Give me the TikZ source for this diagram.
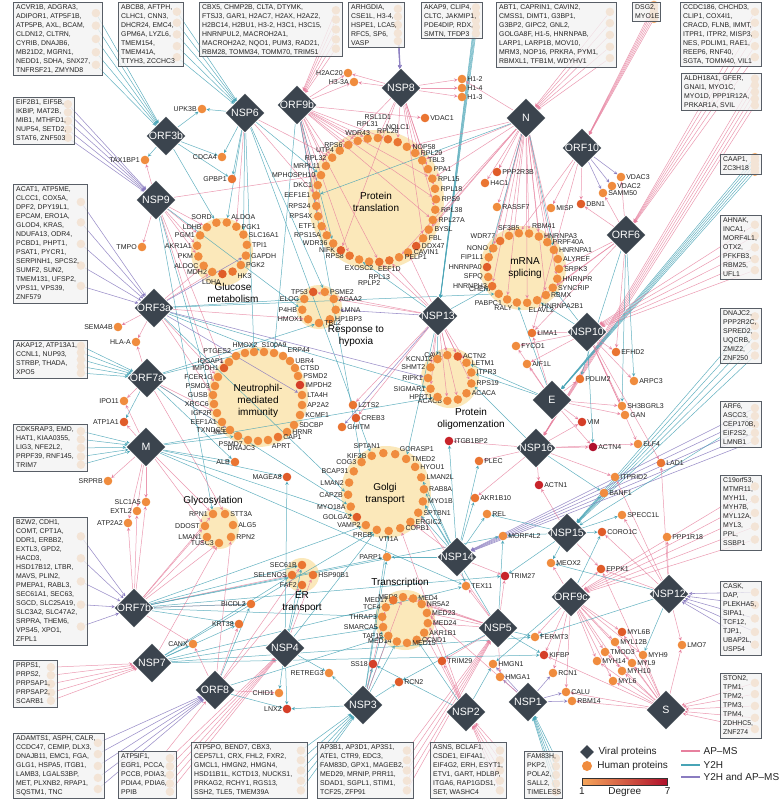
\documentclass[tikz,border=0pt]{standalone}
\usepackage{fontspec}
\setmainfont{Liberation Sans}
\usetikzlibrary{arrows,shapes.geometric,positioning,calc}
\pgfdeclarelayer{blob}
\pgfdeclarelayer{edge}
\pgfsetlayers{blob,edge,main}
\definecolor{viral}{RGB}{59,68,78}
\definecolor{apmsc}{RGB}{231,128,158}
\definecolor{y2hc}{RGB}{72,164,182}
\definecolor{bothc}{RGB}{138,124,192}
\definecolor{d1}{RGB}{245,165,90}
\definecolor{d2}{RGB}{240,140,62}
\definecolor{d3}{RGB}{234,117,50}
\definecolor{d4}{RGB}{224,92,42}
\definecolor{d5}{RGB}{213,62,40}
\definecolor{d6}{RGB}{200,36,42}
\definecolor{d7}{RGB}{176,16,44}
\definecolor{blobc}{RGB}{251,232,186}
\definecolor{boxc}{RGB}{243,243,243}
\definecolor{boxl}{RGB}{88,94,102}
\definecolor{txt}{RGB}{35,35,35}

\begin{document}
\begin{tikzpicture}
[x=1pt,y=-1pt,
vir/.style={diamond,fill=viral,draw=white,line width=.6pt,minimum width=40pt,minimum height=40pt,inner sep=0pt},
vtxt/.style={text=white,font=\fontsize{10.6}{11}\selectfont,inner sep=0pt},
hum/.style={circle,fill=d2,minimum size=8.6pt,inner sep=0pt,label distance=.5pt},
lbl/.style={text=txt,fill=none,font=\fontsize{7}{7}\selectfont,inner sep=.6pt},
gbox/.style={rectangle,draw=boxl,line width=.9pt,fill=boxc,fill opacity=.78,inner sep=0pt,anchor=north west},
btxt/.style={anchor=north west,align=left,text=txt,fill=none,draw=none,fill opacity=1,text opacity=1,font=\fontsize{6.9}{9}\selectfont,inner xsep=3pt,inner ysep=2.6pt},
ghost/.style={circle,fill=d1!85,minimum size=8.6pt,inner sep=0pt},
blob/.style={fill=blobc},
clab/.style={align=center,text=black,font=\fontsize{10}{11.7}\selectfont,inner sep=0pt},
lgt/.style={text=txt,font=\fontsize{10}{11}\selectfont,inner sep=1pt},
apms/.style={->,>=stealth,draw=apmsc,line width=.5pt,draw opacity=.8},
y2h/.style={->,>=stealth,draw=y2hc,line width=.5pt,draw opacity=.85},
both/.style={->,>=stealth,draw=bothc,line width=.55pt,draw opacity=.85}]
\useasboundingbox (0,0) rectangle (784,803);

\foreach \x/\y/\n/\lb in {166/136/vorf3b/ORF3b,245/113/vnsp6/NSP6,297/105/vorf9b/ORF9b,401/88/vnsp8/NSP8,
526/118/vN/N,582/148/vorf10/ORF10,626/235/vorf6/ORF6,156/200/vnsp9/NSP9,154/308/vorf3a/ORF3a,
147/378/vorf7a/ORF7a,146/447/vM/M,438/316/vnsp13/NSP13,587/332/vnsp10/NSP10,552/400/vE/E,
536/448/vnsp16/NSP16,457/557/vnsp14/NSP14,567/533/vnsp15/NSP15,571/597/vorf9c/ORF9c,
669/594/vnsp12/NSP12,666/710/vS/S,528/702/vnsp1/NSP1,498/628/vnsp5/NSP5,466/712/vnsp2/NSP2,
363/705/vnsp3/NSP3,285/648/vnsp4/NSP4,215/690/vorf8/ORF8,152/663/vnsp7/NSP7,134/608/vorf7b/ORF7b}
\node[vir,label={[vtxt]center:\lb}] (\n) at (\x,\y) {};

\foreach \x/\y/\n/\lb/\la/\c in {202/109/upk3b/UPK3B/180/d2,145/160/tax1bp1/TAX1BP1/180/d2,
222/157/cdca4/CDCA4/180/d2,232/179/gpbp1/GPBP1/180/d3,142/247/tmpo/TMPO/180/d2,
348/73/h2ac20/H2AC20/180/d2,354/82/h33a/H3-3A/180/d2,462/79/h12/H1-2/0/d2,462/88/h14/H1-4/0/d2,
462/97/h13/H1-3/0/d2,425/118/vdac1/VDAC1/0/d3,497/172/ppp2r3b/PPP2R3B/0/d4,485/183/h4c1/H4C1/0/d3,
497/207/rassf7/RASSF7/0/d2,551/208/misp/MISP/0/d2,581/204/dbn1/DBN1/0/d4,621/177/vdac3/VDAC3/0/d2,
612/186/vdac2/VDAC2/0/d2,603/193/samm50/SAMM50/0/d2,532/333/lima1/LIMA1/0/d3,516/346/fyco1/FYCO1/0/d2,
527/364/aif1l/AIF1L/0/d2,616/352/efhd2/EFHD2/0/d3,580/379/pdlim2/PDLIM2/0/d3,634/381/arpc3/ARPC3/0/d2,
622/406/sh3bgrl3/SH3BGRL3/0/d2,625/415/gan/GAN/0/d2,582/422/vim/VIM/0/d5,593/447/actn4/ACTN4/0/d7,
638/444/elf4/ELF4/0/d2,661/463/lad1/LAD1/0/d3,615/477/itprid2/ITPRID2/0/d2,539/485/actn1/ACTN1/0/d6,
604/493/banf1/BANF1/0/d2,622/515/specc1l/SPECC1L/0/d2,602/532/coro1c/CORO1C/0/d4,
667/537/ppp1r18/PPP1R18/0/d2,551/563/meox2/MEOX2/0/d2,601/569/eppk1/EPPK1/0/d4,
535/637/fermt3/FERMT3/0/d2,544/655/kifbp/KIFBP/0/d5,553/673/rcn1/RCN1/0/d2,566/692/calu/CALU/0/d2,
572/701/rbm14/RBM14/0/d2,622/632/myl6b/MYL6B/0/d4,615/642/myl12b/MYL12B/0/d2,605/652/tmod3/TMOD3/0/d2,
643/655/myh9/MYH9/0/d2,597/661/myh14/MYH14/0/d2,632/663/myl9/MYL9/0/d2,622/671/myh10/MYH10/0/d2,
613/681/myl6/MYL6/0/d2,682/645/lmo7/LMO7/0/d2,449/441/itgb1bp2/ITGB1BP2/0/d6,479/461/plec/PLEC/0/d3,
475/498/akr1b10/AKR1B10/0/d3,487/514/rel/REL/0/d2,503/536/morf4l2/MORF4L2/0/d2,
505/576/trim27/TRIM27/0/d6,466/586/tex11/TEX11/0/d2,387/557/parp1/PARP1/180/d2,
442/661/trim29/TRIM29/0/d4,493/664/hmgn1/HMGN1/0/d2,500/677/hmga1/HMGA1/0/d2,373/664/ss18/SS18/180/d5,
399/682/rcn2/RCN2/0/d4,329/673/retreg3/RETREG3/180/d2,279/693/chid1/CHID1/180/d2,287/709/lnx2/LNX2/180/d5,
193/644/canx/CANX/180/d2,251/604/bicdl2/BICDL2/180/d3,239/624/krt38/KRT38/180/d3,235/462/alb/ALB/180/d3,
287/477/magea8/MAGEA8/180/d4,342/427/ghitm/GHITM/0/d3,353/405/lzts2/LZTS2/0/d3,356/418/creb3/CREB3/0/d4,
118/327/sema4b/SEMA4B/180/d2,136/342/hlaa/HLA-A/180/d2,124/401/ipo11/IPO11/180/d2,
124/422/atp1a1/ATP1A1/180/d4,108/481/srprb/SRPRB/180/d2,146/502/slc1a5/SLC1A5/180/d2,
137/511/extl2/EXTL2/180/d2,128/523/atp2a2/ATP2A2/180/d2}
\node[hum,fill=\c,label={[lbl]\la:\lb}] (\n) at (\x,\y) {};

\foreach \lb/\c [count=\i] in {RPL31/d2,RSL1D1/d2,RPL26/d3,NOLC1/d3,NOP58/d2,RPL29/d2,TBL3/d2,PPA1/d2,
RPL15/d2,RPL18/d2,RPS9/d2,RPL38/d2,RPL27A/d2,BYSL/d2,FBL/d2,DDX47/d4,CAVIN1/d2,PELP1/d2,EEF1D/d3,
RPL13/d3,RPLP2/d2,EXOSC2/d2,RPS8/d3,NIFK/d4,WDR36/d2,RPS15A/d2,ETF1/d2,RPS4X/d2,RPS24/d2,EEF1E1/d2,
DKC1/d2,MPHOSPH10/d2,MRPL11/d2,RPL32/d2,UTP4/d2,RPS6/d2,WDR43/d2} {
\pgfmathsetmacro\ang{98-(\i-1)*360/37}
\pgfmathsetmacro\sd{sin(\ang)>0.93 ? 90 : (sin(\ang)<-0.93 ? -90 : (cos(\ang)<0 ? 180 : 0))}
\pgfmathsetmacro\ld{abs(sin(\ang))>0.93 ? mod(mod(\i+18,37),3)*6.5+0.5 : 0.5}
\node[hum,fill=\c,label={[lbl,label distance=\ld pt]\sd:\lb}] (tr\i) at ({376+60*cos(\ang)},{200-62*sin(\ang)}) {};
}
\foreach \lb/\c/\la [count=\i] in {SF3B5/d2/90,/d2/90,RBM41/d2/60,HNRNPA3/d2/0,PRPF40A/d2/0,HNRNPA1/d2/0,
ALYREF/d2/0,SRPK3/d2/0,HNRNPR/d2/0,SYNCRIP/d2/0,RBMX/d2/0,HNRNPA2B1/d2/-30,ELAVL2/d2/-80,RALY/d2/-150,
PABPC1/d2/190,CHERP/d2/165,HNRNPH3/d3/180,SFPQ/d2/180,HNRNPA0/d4/180,FIP1L1/d2/180,NONO/d2/180,WDR77/d3/160} {
\pgfmathsetmacro\ang{113-(\i-1)*360/22}
\node[hum,fill=\c,label={[lbl]\la:\lb}] (sp\i) at ({523+36*cos(\ang)},{268-35*sin(\ang)}) {};
}
\foreach \lb/\c/\la [count=\i] in {SORD/d2/150,ALDOA/d2/30,PGK1/d2/0,SLC16A1/d2/0,TPI1/d2/0,GAPDH/d2/0,
PGK2/d2/0,HK3/d3/-20,LDHA/d4/-100,MDH2/d2/180,ALDOC/d2/180,PKM/d2/180,AKR1A1/d2/180,PGM1/d2/180,LDHB/d2/180} {
\pgfmathsetmacro\ang{103-(\i-1)*24}
\node[hum,fill=\c,label={[lbl]\la:\lb}] (gm\i) at ({222+25*cos(\ang)},{248-26*sin(\ang)}) {};
}
\foreach \lb/\c [count=\i] in {TP53/d4,PSME2/d2,ACAA2/d2,LMNA/d2,HP1BP3/d2,TBL2/d2,HMOX1/d2,P4HB/d2,ELOC/d2} {
\pgfmathsetmacro\ang{110-(\i-1)*40}
\pgfmathsetmacro\sd{cos(\ang)<0 ? 180 : 0}
\node[hum,fill=\c,label={[lbl]\sd:\lb}] (hy\i) at ({319+17*cos(\ang)},{307-16*sin(\ang)}) {};
}
\foreach \x/\y/\lb/\la/\c [count=\i] in {245/353/HMOX2/90/d2,254/352//90/d2,264/352//90/d2,
274/353/S100A9/90/d2,283/356/ERP44/30/d2,290/361/UBR4/0/d2,295/368/CTSD/0/d2,298/376/PSMD2/0/d2,
300/385/IMPDH2/0/d5,302/395/LTA4H/0/d2,302/405/AP2A2/0/d2,300/415/KCMF1/0/d2,294/425/SDCBP/0/d2,
287/432/HRNR/0/d2,278/437/CAP1/0/d3,268/440/APRT/-45/d2,258/441/DNAJC3/-120/d2,248/440/PSMD7/-165/d2,
238/436/MLEC/170/d2,230/430/TXNDC5/180/d2,222/422/EEF1A1/180/d2,217/413/IGF2R/180/d2,
214/404/XRCC6/180/d2,213/395/GUSB/180/d2,215/386/PSMD3/180/d2,218/377/FCER1G/180/d2,
224/368/IMPDH1/180/d4,229/362/IQGAP1/180/d2,236/356/PTGES2/160/d2}
\node[hum,fill=\c,label={[lbl]\la:\lb}] (ne\i) at (\x,\y) {};
\foreach \lb/\c [count=\i] in {CAV1/d2,ACTN2/d4,LETM1/d2,ITPR3/d2,RPS19/d2,ACACA/d2,/d2,ACACB/d2,
HPRT1/d2,SIGMAR1/d2,RIPK1/d2,SHMT2/d2,KCNJ12/d2} {
\pgfmathsetmacro\ang{97-(\i-1)*360/13}
\pgfmathsetmacro\sd{cos(\ang)<0 ? 180 : 0}
\node[hum,fill=\c,label={[lbl]\sd:\lb}] (ol\i) at ({450+22*cos(\ang)},{378-23*sin(\ang)}) {};
}
\foreach \lb/\c/\la [count=\i] in {KIF2B/d2/180,SPTAN1/d2/120,GORASP1/d2/30,TMED2/d2/0,HYOU1/d2/0,
LMAN2L/d2/0,RAB8A/d2/0,MYO1B/d2/0,SPTBN1/d2/0,ERGIC2/d2/0,COPB1/d2/0,VTI1A/d2/-90,PREB/d2/-150,
VAMP2/d2/180,GOLGA2/d4/180,MYO18A/d2/180,CAPZB/d2/180,LMAN2/d2/180,BCAP31/d2/180,COG3/d2/180} {
\pgfmathsetmacro\ang{112-(\i-1)*18}
\node[hum,fill=\c,label={[lbl]\la:\lb}] (go\i) at ({386+38*cos(\ang)},{492-39*sin(\ang)}) {};
}
\foreach \x/\y/\lb/\la [count=\i] in {213/514/RPN1/180,225/514/STT3A/0,233/525/ALG5/0,231/537/RPN2/0,
219/543/TUSC3/180,207/537/LMAN1/180,205/526/DDOST/180}
\node[hum,label={[lbl]\la:\lb}] (gl\i) at (\x,\y) {};
\foreach \x/\y/\lb/\la [count=\i] in {302/565/SEC61B/180,313/575/HSP90B1/0,302/585/FAF2/180,292/575/SELENOS/180}
\node[hum,fill=d3,label={[lbl]\la:\lb}] (er\i) at (\x,\y) {};
\foreach \lb/\c [count=\i] in {MED8/d2,MED4/d2,NR5A2/d2,MED23/d2,MED24/d2,AKR1B1/d2,CCND1/d2,MED15/d2,
MED14/d2,TAF15/d2,SMARCA5/d2,THRAP3/d2,TCF4/d2,MED17/d3} {
\pgfmathsetmacro\ang{95-(\i-1)*360/14}
\pgfmathsetmacro\sd{cos(\ang)<0 ? 180 : 0}
\node[hum,fill=\c,label={[lbl]\sd:\lb}] (tc\i) at ({405+23*cos(\ang)},{620-23*sin(\ang)}) {};
}

\node[clab] (ltr) at (376,202) {Protein\\translation};
\node[clab] (lsp) at (525,268) {mRNA\\splicing};
\node[clab] (lgm) at (233,293) {Glucose\\metabolism};
\node[clab] (lhy) at (356,336) {Response to\\hypoxia};
\node[clab] (lne) at (258,401) {Neutrophil-\\mediated\\immunity};
\node[clab] (lol) at (471,419) {Protein\\oligomenzation};
\node[clab] (lgo) at (385,494) {Golgi\\transport};
\node[clab] (lgl) at (213,501) {Glycosylation};
\node[clab] (ler) at (302,602) {ER\\transport};
\node[clab] (ltc) at (400,583) {Transcription};

\node[gbox,minimum width=89pt,minimum height=73pt,label={[btxt]north west:{ACVR1B, ADGRA3,\\ADIPOR1, ATP5F1B,\\ATP5PB, AXL, BCAM,\\CLDN12, CLTRN,\\CYRIB, DNAJB6,\\MB21D2, MGRN1,\\NEDD1, SDHA, SNX27,\\TNFRSF21, ZMYND8}}] (bacvr) at (13,2) {};
\node[gbox,minimum width=65pt,minimum height=64pt,label={[btxt]north west:{ABCB8, AFTPH,\\CLHC1, CNN3,\\DHCR24, EMC4,\\GPM6A, LYZL6,\\TMEM154,\\TMEM41A,\\TTYH3, ZCCHC3}}] (babcb) at (118,2) {};
\node[gbox,minimum width=143pt,minimum height=54pt,label={[btxt]north west:{CBX5, CHMP2B, CLTA, DTYMK,\\FTSJ3, GAR1, H2AC7, H2AX, H2AZ2,\\H2BC14, H2BU1, H3-2, H3C1, H3C15,\\HNRNPUL2, MACROH2A1,\\MACROH2A2, NQO1, PUM3, RAD21,\\RBM28, TOMM34, TOMM70, TRIM51}}] (bcbx) at (199,2) {};
\node[gbox,minimum width=56pt,minimum height=45pt,label={[btxt]north west:{ARHGDIA,\\CSE1L, H3-4,\\HSPE1, LCA5,\\RFC5, SP6,\\VASP}}] (barhg) at (348,2) {};
\node[gbox,minimum width=61pt,minimum height=36pt,label={[btxt]north west:{AKAP9, CLIP4,\\CLTC, JAKMIP1,\\PDE4DIP, RDX,\\SMTN, TFDP3}}] (bakap9) at (421,2) {};
\node[gbox,minimum width=120pt,minimum height=65pt,label={[btxt]north west:{ABT1, CAPRIN1, CAVIN2,\\CMSS1, DIMT1, G3BP1,\\G3BP2, GIPC2, GNL2,\\GOLGA8F, H1-5, HNRNPAB,\\LARP1, LARP1B, MOV10,\\MRM3, NOP16, PRKRA, PYM1,\\RBMXL1, TFB1M, WDYHV1}}] (babt) at (496,2) {};
\node[gbox,minimum width=28pt,minimum height=19pt,label={[btxt]north west:{DSG2,\\MYO1E}}] (bdsg) at (632,2) {};
\node[gbox,minimum width=81pt,minimum height=64pt,label={[btxt]north west:{CCDC186, CHCHD3,\\CLIP1, COX4I1,\\CRACD, FLNB, IMMT,\\ITPR1, ITPR2, MISP3,\\NES, PDLIM1, RAE1,\\REEP6, RNF40,\\SGTA, TOMM40, VIL1}}] (bccdc) at (680,2) {};
\node[gbox,minimum width=80pt,minimum height=37pt,label={[btxt]north west:{ALDH18A1, GFER,\\GNAI1, MYO1C,\\MYO1D, PPP1R12A,\\PRKAR1A, SVIL}}] (baldh) at (681,73) {};
\node[gbox,minimum width=41pt,minimum height=20pt,label={[btxt]north west:{CAAP1,\\ZC3H18}}] (bcaap) at (720,154) {};
\node[gbox,minimum width=41pt,minimum height=64pt,label={[btxt]north west:{AHNAK,\\INCA1,\\MORF4L1,\\OTX2,\\PFKFB3,\\RBM25,\\UFL1}}] (bahnak) at (720,215) {};
\node[gbox,minimum width=41pt,minimum height=55pt,label={[btxt]north west:{DNAJC2,\\PPP2R2C,\\SPRED2,\\UQCRB,\\ZMIZ2,\\ZNF250}}] (bdnajc) at (720,308) {};
\node[gbox,minimum width=41pt,minimum height=46pt,label={[btxt]north west:{ARF6,\\ASCC3,\\CEP170B,\\EIF2S2,\\LMNB1}}] (barf6) at (720,401) {};
\node[gbox,minimum width=41pt,minimum height=75pt,label={[btxt]north west:{C19orf53,\\MTMR11,\\MYH11,\\MYH7B,\\MYL12A,\\MYL3,\\PPL,\\SSBP1}}] (bc19) at (720,475) {};
\node[gbox,minimum width=41pt,minimum height=74pt,label={[btxt]north west:{CASK,\\DAP,\\PLEKHA5,\\SIPA1,\\TCF12,\\TJP1,\\UBAP2L,\\USP54}}] (bcask) at (720,581) {};
\node[gbox,minimum width=41pt,minimum height=65pt,label={[btxt]north west:{STON2,\\TPM1,\\TPM2,\\TPM3,\\TPM4,\\ZDHHC5,\\ZNF274}}] (bston) at (720,673) {};
\node[gbox,minimum width=38pt,minimum height=47pt,label={[btxt]north west:{FAM83H,\\PKP2,\\POLA2,\\SALL2,\\TIMELESS}}] (bfam) at (524,751) {};
\node[gbox,minimum width=76pt,minimum height=56pt,label={[btxt]north west:{ASNS, BCLAF1,\\CSDE1, EIF4A1,\\EIF4G2, ERH, ESYT1,\\ETV1, GART, HDLBP,\\ITGA6, RAP1GDS1,\\SET, WASHC4}}] (basns) at (430,742) {};
\node[gbox,minimum width=96pt,minimum height=56pt,label={[btxt]north west:{AP3B1, AP3D1, AP3S1,\\ATE1, CTR9, EDC3,\\FAM83D, GPX1, MAGEB2,\\MED29, MRNIP, PRR11,\\SDAD1, SGPL1, STIM1,\\TCF25, ZFP91}}] (bap3) at (317,742) {};
\node[gbox,minimum width=116pt,minimum height=56pt,label={[btxt]north west:{ATP5PO, BEND7, CBX3,\\CEP57L1, CRX, FHL2, FXR2,\\GMCL1, HMGN2, HMGN4,\\HSD11B1L, KCTD13, NUCKS1,\\PRKAG2, RCHY1, RGS13,\\SSH2, TLE5, TMEM39A}}] (batp5po) at (191,742) {};
\node[gbox,minimum width=58pt,minimum height=47pt,label={[btxt]north west:{ATP5IF1,\\EGR1, PCCA,\\PCCB, PDIA3,\\PDIA4, PDIA6,\\PPIB}}] (batp5if) at (118,751) {};
\node[gbox,minimum width=91pt,minimum height=65pt,label={[btxt]north west:{ADAMTS1, ASPH, CALR,\\CCDC47, CEMIP, DLX3,\\DNAJB11, EMC1, FGA,\\GLG1, HSPA5, ITGB1,\\LAMB3, LGALS3BP,\\MET, PLXNB2, RPAP1,\\SQSTM1, TNC}}] (badam) at (13,733) {};
\node[gbox,minimum width=44pt,minimum height=47pt,label={[btxt]north west:{PRPS1,\\PRPS2,\\PRPSAP1,\\PRPSAP2,\\SCARB1}}] (bprps) at (13,660) {};
\node[gbox,minimum width=74pt,minimum height=128pt,label={[btxt]north west:{BZW2, CDH1,\\COMT, CPT1A,\\DDR1, ERBB2,\\EXTL3, GPD2,\\HACD3,\\HSD17B12, LTBR,\\MAVS, PLIN2,\\PMEPA1, RABL3,\\SEC61A1, SEC63,\\SGCD, SLC25A19,\\SLC3A2, SLC47A2,\\SRPRA, THEM6,\\VPS45, XPO1,\\ZFPL1}}] (bbzw) at (13,517) {};
\node[gbox,minimum width=74pt,minimum height=47pt,label={[btxt]north west:{CDK5RAP3, EMD,\\HAT1, KIAA0355,\\LIG3, NFE2L2,\\PRPF39, RNF145,\\TRIM7}}] (bcdk) at (13,424) {};
\node[gbox,minimum width=74pt,minimum height=38pt,label={[btxt]north west:{AKAP12, ATP13A1,\\CCNL1, NUP93,\\STRBP, THADA,\\XPO5}}] (bakap12) at (13,340) {};
\node[gbox,minimum width=74pt,minimum height=119pt,label={[btxt]north west:{ACAT1, ATP5ME,\\CLCC1, COX5A,\\DPF2, DPY19L1,\\EPCAM, ERO1A,\\GLOD4, KRAS,\\NDUFA13, ODR4,\\PCBD1, PHPT1,\\PSAT1, PYCR1,\\SERPINH1, SPCS2,\\SUMF2, SUN2,\\TMEM131, UFSP2,\\VPS11, VPS39,\\ZNF579}}] (bacat) at (13,184) {};
\node[gbox,minimum width=61pt,minimum height=47pt,label={[btxt]north west:{EIF2B1, EIF5B,\\IKBIP, MAT2B,\\MIB1, MTHFD1,\\NUP54, SETD2,\\STAT6, ZNF503}}] (beif) at (13,97) {};

\begin{pgfonlayer}{blob}
\fill[white] (0,0) rectangle (784,803);
\fill[blob] (376,200) ellipse (68 and 70);
\fill[blob] (523,268) ellipse (43 and 42);
\fill[blob] (222,252) ellipse (31 and 34);
\fill[blob] (319,307) ellipse (23 and 22);
\fill[blob] (258,397) ellipse (50 and 50);
\fill[blob] (450,378) ellipse (29 and 30);
\fill[blob] (386,492) ellipse (45 and 46);
\fill[blob] (219,528) ellipse (20 and 21);
\fill[blob] (302,575) ellipse (17 and 17);
\fill[blob] (405,620) ellipse (30 and 30);
\end{pgfonlayer}

\begin{pgfonlayer}{edge}
\foreach \b/\v/\ty in {bacvr/vorf3b/y2h,babcb/vnsp6/y2h,bcbx/vorf9b/apms,barhg/vnsp8/both,
bakap9/vnsp13/y2h,babt/vN/apms,bdsg/vorf10/apms,bccdc/vorf6/apms,baldh/vnsp16/apms,bcaap/vE/y2h,
bahnak/vnsp10/apms,bdnajc/vnsp15/y2h,barf6/vnsp14/both,bc19/vorf9c/apms,bcask/vnsp12/both,
bston/vS/apms,bfam/vnsp1/y2h,basns/vnsp2/apms,bap3/vnsp5/apms,batp5po/vnsp3/y2h,batp5if/vnsp4/apms,
badam/vorf8/both,bprps/vnsp7/apms,bbzw/vorf7b/both,bcdk/vM/y2h,bakap12/vorf7a/y2h,bacat/vorf3a/both,
beif/vnsp9/both}
\foreach \k in {.15,.32,.5,.68,.85} {
\node[ghost] (g) at ($(\b.north east)!\k!(\b.south east)+(-7,0)$) {};
\draw[\ty] (g) -- (\v);
}
\draw[apms] (batp5if) -- (vorf8);
\draw[y2h] (barf6) -- (vnsp15);

\foreach \v/\ty/\ts in {
vorf9b/apms/{tr1,tr3,tr9,tr11,tr13,tr20,tr23,tr26,tr28,tr29,tr31,tr33,tr34,tr36,tr37,h2ac20,h33a,vdac1},
vorf9b/y2h/{ne4,go20,tr25},
vnsp8/apms/{h12,h14,h13,h2ac20,h33a,tr2,tr4,tr6,tr8,tr10,tr12,tr15,tr24,tr35},
vN/apms/{sp1,sp3,sp4,sp5,sp7,sp9,sp11,sp13,sp15,sp17,sp19,sp21,tr5,tr7,tr9,tr14,tr16,tr18,ppp2r3b,h4c1,rassf7,h12},
vN/y2h/{sp6,sp20,tr30},
vorf10/apms/{dbn1,misp,lima1,sp2},
vorf10/both/{vdac3,vdac2,samm50},
vorf6/apms/{dbn1,samm50,vdac3,sp8,sp10,sp12,efhd2,lima1},
vorf6/y2h/{arpc3,sh3bgrl3,pdlim2},
vnsp6/y2h/{upk3b,cdca4,gpbp1,gm2,gm4,tr32,ne2,go1,hy2},
vnsp6/apms/{gm3,tr34,tr30},
vorf3b/y2h/{upk3b,tax1bp1,cdca4,gpbp1,gm1},
vnsp9/apms/{tax1bp1,tmpo,gm14,gm13,gm12,ne27,ne25,tr32,gm15},
vnsp9/y2h/{ne23,gl1,hy8},
vorf3a/apms/{sema4b,hlaa,gm11,gm10,ne26,ne24,hy7},
vorf3a/y2h/{ne3,ol10,go17,hy9,sp16},
vorf3a/both/{gm6,ne10,ol11},
vorf7a/apms/{hlaa,ipo11,ne22,ne20,gl2},
vorf7a/y2h/{atp1a1,ne1,alb,hy6,go16},
vM/apms/{atp1a1,srprb,slc1a5,extl2,atp2a2,ipo11,gl1,gl7},
vM/y2h/{alb,ne19,magea8,go15,ol9,tex11},
vorf7b/apms/{atp2a2,extl2,slc1a5,gl6,gl5,gl7,bicdl2,canx,er4,gl1},
vorf7b/y2h/{krt38,bicdl2,er1,go14,tc12,trim27,morf4l2,parp1},
vnsp7/y2h/{canx,krt38,er4,go13,tc11,fermt3,tex11,kifbp},
vnsp7/apms/{gl5},
vorf8/apms/{canx,chid1,er3,er1,gl4,krt38},
vorf8/y2h/{lnx2,bicdl2,tc10},
vnsp4/y2h/{er1,er3,retreg3,lnx2,chid1,go13,magea8},
vnsp4/apms/{er2},
vnsp3/y2h/{ss18,rcn2,retreg3,lnx2,tc9,tc10,tc11,go12,parp1},
vnsp3/apms/{tc1,tc13},
vnsp2/apms/{trim29,tc6,tc5,go11},
vnsp2/y2h/{hmgn1,tc7,ss18},
vnsp1/both/{hmgn1,hmga1,rcn1,calu,rbm14},
vnsp1/apms/{tc4},
vnsp5/apms/{tc1,tc2,tc3,tc4,tc5,tex11,trim27,hmga1,go9,trim29},
vnsp5/y2h/{fermt3,kifbp,go8,rcn2,morf4l2},
vnsp14/y2h/{go6,go7,go8,go9,tex11,parp1,akr1b10,rel,plec,itgb1bp2},
vnsp14/apms/{go10,trim27},
vnsp15/y2h/{morf4l2,meox2,coro1c,banf1,specc1l,rel,trim27},
vnsp15/apms/{eppk1,actn1},
vorf9c/apms/{meox2,myl6b,myl12b,tmod3,myh14,myl9,myh10,myl6,myh9,fermt3,kifbp,rcn1,calu,eppk1},
vorf9c/y2h/{coro1c,hmgn1},
vnsp12/apms/{ppp1r18,lmo7,eppk1,coro1c,itprid2,lad1,specc1l},
vnsp12/y2h/{myh9,fermt3,meox2},
vS/apms/{myl6b,myl12b,tmod3,myh14,myl9,myh10,myl6,myh9,lmo7,kifbp,calu,rbm14,eppk1},
vnsp16/apms/{actn1,actn4,vim,itgb1bp2,plec,itprid2,akr1b10,elf4},
vnsp16/y2h/{banf1,ol5},
vE/apms/{aif1l,pdlim2,fyco1,lima1,sh3bgrl3,gan,actn4,vim},
vE/y2h/{ol3,ol4,sp14},
vnsp10/apms/{efhd2,arpc3,lima1,fyco1,elf4,lad1,sh3bgrl3,gan,aif1l},
vnsp10/y2h/{sp10,sp12,actn4},
vnsp13/apms/{ol1,ol2,ol3,ol5,ol7,ol8,ol10,ol12,tr19,tr20,tr17,hy1,hy3,lzts2,creb3},
vnsp13/y2h/{sp17,go4,tr22,ol13},
vnsp13/both/{hy4,ghitm}}
{\foreach \tg in \ts {\draw[\ty] (\v) -- (\tg);}}
\end{pgfonlayer}

\node[vir,minimum width=14pt,minimum height=14pt,draw=none] (lgv) at (587,752) {};
\node[lgt,right=3pt of lgv] (lgvt) {Viral proteins};
\node[hum,minimum size=10pt] (lgh) at (587,766) {};
\node[lgt,right=4pt of lgh] (lght) {Human proteins};
\node[draw=black!80,line width=.6pt,left color=d1,right color=d7,minimum width=85pt,minimum height=7pt,inner sep=0pt,anchor=north west] (lgbar) at (582,778) {};
\node[lgt,below=1pt of lgbar.south west] {1};
\node[lgt,below=1pt of lgbar] {Degree};
\node[lgt,below=1pt of lgbar.south east] {7};
\coordinate (la1) at (681,751);
\coordinate (la2) at (700,751);
\coordinate (lb1) at (681,765);
\coordinate (lb2) at (700,765);
\coordinate (lc1) at (681,777);
\coordinate (lc2) at (700,777);
\draw[apmsc,line width=1.3pt] (la1) -- (la2) node[lgt,right=2pt] {AP--MS};
\draw[y2hc,line width=1.3pt] (lb1) -- (lb2) node[lgt,right=2pt] {Y2H};
\draw[bothc,line width=1.3pt] (lc1) -- (lc2) node[lgt,right=2pt] {Y2H and AP--MS};
\end{tikzpicture}
\end{document}
